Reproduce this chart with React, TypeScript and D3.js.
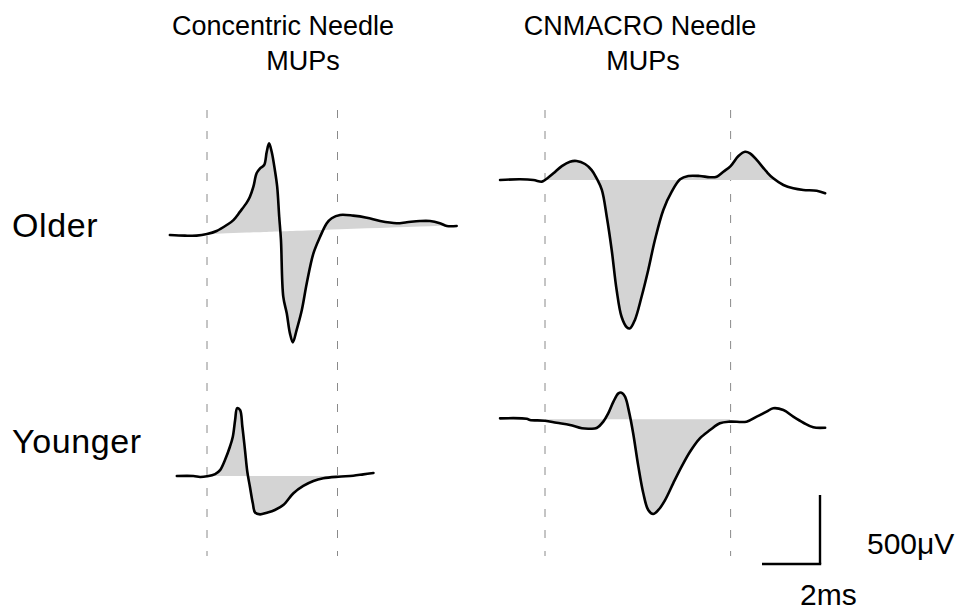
import React from "react";
import * as d3 from "d3";

// ---- data (time in ms relative to onset marker, amplitude in µV) ----
const olderConcT = [-1.28, -0.76, -0.36, 0, 0.33, 0.68, 0.91, 1.14, 1.37, 1.48, 1.6, 1.71, 1.83, 1.97, 2.06, 2.14, 2.23, 2.34, 2.42, 2.49, 2.55, 2.63, 2.75, 2.86, 2.96, 3.09, 3.27, 3.44, 3.67, 3.9, 4.13, 4.3, 4.59, 5.04, 5.51, 5.97, 6.54, 6.89, 7.34, 7.69, 8.03, 8.27, 8.61];
const olderConcV = [-7, -12, -12, 0, 22, 65, 101, 162, 227, 270, 343, 440, 476, 500, 596, 657, 596, 464, 343, 125, -43, -454, -575, -720, -785, -696, -551, -357, -140, -20, 78, 114, 138, 133, 118, 94, 78, 85, 94, 94, 78, 58, 58];

const olderMacroT = [-1.55, -0.86, -0.4, -0.11, 0, 0.29, 0.58, 0.86, 1.09, 1.38, 1.61, 1.78, 1.96, 2.13, 2.3, 2.47, 2.64, 2.82, 2.93, 3.1, 3.33, 3.56, 3.79, 4.08, 4.37, 4.66, 4.94, 5.34, 5.69, 5.92, 6.15, 6.4, 6.67, 6.9, 7.07, 7.3, 7.64, 7.87, 8.22, 8.56, 8.91, 9.37, 9.66];
const olderMacroV = [0, 5, 0, -12, 0, 49, 101, 133, 138, 116, 72, 12, -72, -266, -507, -797, -991, -1067, -1075, -1014, -846, -652, -435, -217, -85, 5, 29, 29, 20, 24, 60, 101, 174, 205, 193, 145, 60, 12, -36, -60, -72, -78, -96];

const youngerConcT = [-1.04, -0.47, -0.24, 0, 0.28, 0.45, 0.62, 0.79, 0.89, 0.97, 1.04, 1.14, 1.22, 1.31, 1.39, 1.48, 1.58, 1.66, 1.83, 2.06, 2.34, 2.63, 2.98, 3.32, 3.67, 4.01, 4.53, 5.04, 5.39, 5.74];
const youngerConcV = [0, 0, -7, -2, 14, 43, 116, 212, 285, 406, 491, 478, 357, 188, 31, -78, -198, -266, -278, -266, -246, -210, -125, -72, -36, -17, -5, 2, 12, 22];

const youngerMacroT = [-1.55, -0.63, -0.52, 0, 0.4, 0.86, 1.27, 1.55, 1.78, 2.01, 2.18, 2.36, 2.53, 2.64, 2.76, 2.91, 3.04, 3.22, 3.39, 3.56, 3.73, 3.91, 4.14, 4.42, 4.71, 5.0, 5.34, 5.69, 6.03, 6.38, 6.95, 7.3, 7.64, 7.87, 8.22, 8.56, 8.91, 9.25, 9.66];
const youngerMacroV = [7, 4, -5, -10, -25, -41, -65, -68, -63, -17, 43, 128, 188, 193, 164, 43, -101, -343, -536, -657, -686, -657, -585, -464, -343, -235, -138, -78, -29, -17, -17, 19, 55, 80, 67, 19, -25, -58, -61];

// fill (area) limits [start ms, end ms] and baseline µV at start/end
const olderConcFill = [0, 8.1];
const olderConcBase = [0, 60];
const olderMacroFill = [0, 7.95];
const olderMacroBase = [0, 0];
const youngerConcFill = [0, 4.6];
const youngerConcBase = [0, 0];
const youngerMacroFill = [0, 6.38];
const youngerMacroBase = [0, 0];

// dashed marker times (ms) per column
const concMarkers = [0, 4.5];
const macroMarkers = [0, 6.4];

const columnTitles = [["Concentric Needle", "MUPs"], ["CNMACRO Needle", "MUPs"]];
const rowLabels = ["Older", "Younger"];
const scaleTime = 2; // ms
const scaleAmp = 500; // µV

// ---- layout ----
const W = 961;
const H = 611;
const PX_PER_MS = 29;
const PX_PER_UV = 0.138;
const colOrigin = [207, 545];
const rowBase = [[234, 180], [476, 419.3]];
const FONT = "'Liberation Sans', Arial, Helvetica, sans-serif";

type Trace = { t: number[]; v: number[]; fill: number[]; base: number[]; col: number; row: number };
const traces: Trace[] = [
  { t: olderConcT, v: olderConcV, fill: olderConcFill, base: olderConcBase, col: 0, row: 0 },
  { t: olderMacroT, v: olderMacroV, fill: olderMacroFill, base: olderMacroBase, col: 1, row: 0 },
  { t: youngerConcT, v: youngerConcV, fill: youngerConcFill, base: youngerConcBase, col: 0, row: 1 },
  { t: youngerMacroT, v: youngerMacroV, fill: youngerMacroFill, base: youngerMacroBase, col: 1, row: 1 },
];

function xScale(col: number) {
  const o = colOrigin[col];
  return d3.scaleLinear().domain([0, 10]).range([o, o + 10 * PX_PER_MS]);
}
function yScale(col: number, row: number) {
  const b = rowBase[row][col];
  return d3.scaleLinear().domain([0, 1000]).range([b, b - 1000 * PX_PER_UV]);
}

function interp(t: number[], v: number[], x: number) {
  const i = d3.bisectRight(t, x);
  if (i <= 0) return v[0];
  if (i >= t.length) return v[v.length - 1];
  const f = (x - t[i - 1]) / (t[i] - t[i - 1]);
  return v[i - 1] + f * (v[i] - v[i - 1]);
}

export default function App() {
  const markerCols = [concMarkers, macroMarkers];
  return (
    <svg width={W} height={H} style={{ position: "absolute", left: 0, top: 0, background: "#fff" }} fontFamily={FONT}>
      <rect width={W} height={H} fill="#fff" />
      {markerCols.map((ms, c) =>
        ms.map((m, j) => {
          const x = xScale(c)(m);
          return (
            <line key={`m${c}-${j}`} x1={x} x2={x} y1={110} y2={556} stroke="#8a8a8a" strokeWidth={1} strokeDasharray="8,13" />
          );
        })
      )}
      {traces.map((tr, k) => {
        const xs = xScale(tr.col);
        const ys = yScale(tr.col, tr.row);
        const pts = tr.t.map((t, i) => [t, tr.v[i]] as [number, number]);
        const [f0, f1] = tr.fill;
        const inner = tr.t.filter((t) => t > f0 && t < f1);
        const ft = [f0, ...inner, f1];
        const baseAt = (t: number) => tr.base[0] + ((t - f0) / (f1 - f0)) * (tr.base[1] - tr.base[0]);
        const area = d3
          .area<number>()
          .x((t) => xs(t))
          .y0((t) => ys(baseAt(t)))
          .y1((t) => ys(interp(tr.t, tr.v, t)));
        const line = d3
          .line<[number, number]>()
          .x((d) => xs(d[0]))
          .y((d) => ys(d[1]))
          .curve(d3.curveCatmullRom.alpha(0.5));
        return (
          <g key={`t${k}`}>
            <path d={area(ft) || ""} fill="#d4d4d4" stroke="none" />
            <path d={line(pts) || ""} fill="none" stroke="#000" strokeWidth={2.6} strokeLinejoin="round" strokeLinecap="round" />
          </g>
        );
      })}
      {/* column titles */}
      <text x={283} y={35} fontSize={27} textAnchor="middle">{columnTitles[0][0]}</text>
      <text x={303} y={70} fontSize={27} textAnchor="middle">{columnTitles[0][1]}</text>
      <text x={640} y={35} fontSize={27} textAnchor="middle">{columnTitles[1][0]}</text>
      <text x={643} y={70} fontSize={27} textAnchor="middle">{columnTitles[1][1]}</text>
      {/* row labels */}
      <text x={12} y={237} fontSize={34} letterSpacing={0.6}>{rowLabels[0]}</text>
      <text x={12} y={453} fontSize={34} letterSpacing={0.6}>{rowLabels[1]}</text>
      {/* scale bar */}
      {(() => {
        const x1 = 820;
        const y1 = 564;
        const wpx = scaleTime * PX_PER_MS;
        const hpx = scaleAmp * PX_PER_UV;
        return (
          <g>
            <line x1={x1} x2={x1} y1={y1} y2={y1 - hpx} stroke="#000" strokeWidth={2.4} />
            <line x1={x1 - wpx} x2={x1 + 1.2} y1={y1} y2={y1} stroke="#000" strokeWidth={2.4} />
            <text x={867} y={554} fontSize={30}>{`${scaleAmp}\u03BCV`}</text>
            <text x={800} y={605} fontSize={30}>{`${scaleTime}ms`}</text>
          </g>
        );
      })()}
    </svg>
  );
}
